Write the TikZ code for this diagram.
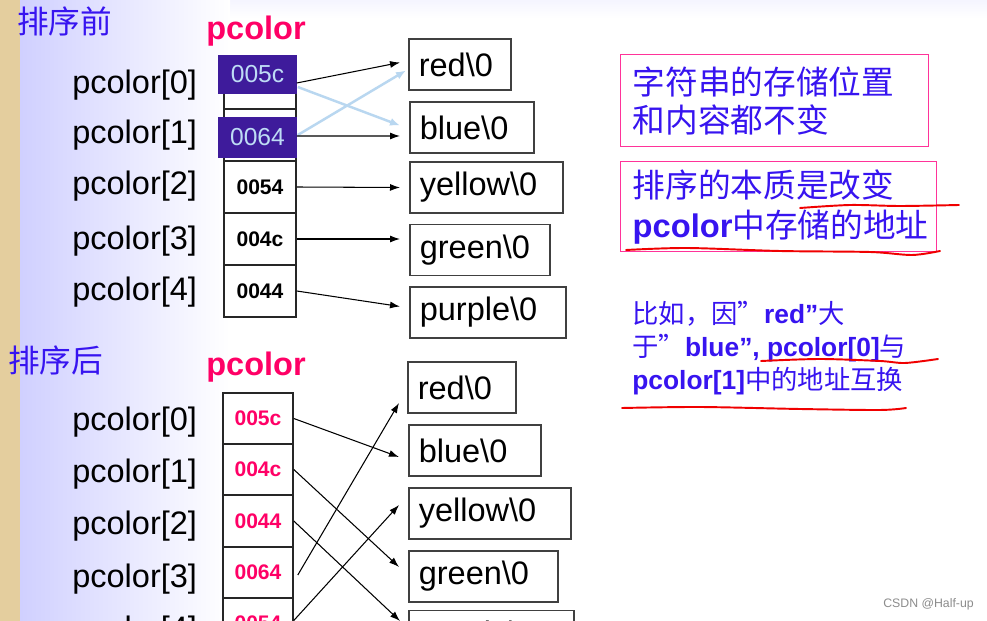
\documentclass[tikz,border=0pt]{standalone}
\usepackage{fontspec}
\setmainfont{Liberation Sans}
\newfontfamily\cjk{Noto Sans CJK SC}
\usepackage{tikz}
\usetikzlibrary{arrows.meta,calc}
\definecolor{NoteBlue}{RGB}{55,20,240}
\definecolor{PtrPink}{RGB}{255,0,102}
\definecolor{BoxPink}{RGB}{255,51,153}
\definecolor{HiPurple}{RGB}{62,27,155}
\definecolor{HiText}{RGB}{190,220,245}
\definecolor{SwapBlue}{RGB}{185,215,240}
\definecolor{Lavender}{RGB}{208,208,255}
\definecolor{Parch}{RGB}{228,206,158}
\definecolor{MarkRed}{RGB}{240,0,0}

\begin{document}
\begin{tikzpicture}[x=0.02cm, y=-0.02cm,
 lbl/.style={anchor=base west, inner sep=0, font=\fontsize{18.5}{22}\selectfont},
 head/.style={anchor=base west, inner sep=0, text=PtrPink, font=\fontsize{18.5}{22}\selectfont\bfseries},
 title/.style={anchor=west, inner sep=0, text=NoteBlue, font=\fontsize{18}{22}\selectfont\cjk},
 cell/.style={draw=black!85, line width=0.9pt, fill=white, minimum width=1.44cm, minimum height=1.04cm, inner sep=0, font=\fontsize{12}{14}\selectfont\bfseries},
 hilite/.style={fill=HiPurple, text=HiText, minimum width=1.58cm, inner sep=0, font=\fontsize{14}{16}\selectfont},
 strbox/.style={draw=black!75, line width=0.9pt, anchor=west, text width=#1, inner xsep=0.2cm, inner ysep=0, minimum height=1.02cm, font=\fontsize{18.5}{22}\selectfont},
 note/.style={draw=BoxPink, line width=0.8pt, anchor=north west, text=NoteBlue, align=left, inner xsep=0.24cm, inner ysep=0, text width=#1},
 ptr/.style={-{Latex[length=2mm,width=1.4mm]}, line width=0.6pt},
 swap/.style={-{Latex[length=2mm,width=1.6mm]}, line width=1.4pt, draw=SwapBlue},
 redline/.style={draw=MarkRed, line width=1.1pt, line cap=round}
]
\useasboundingbox (0,0) rectangle (987,621);
\clip (0,0) rectangle (987,621);

% background
\fill[white] (0,0) rectangle (987,621);
\shade[top color=Lavender!22, bottom color=white] (230,0) rectangle (987,18);
\fill[Parch] (0,0) rectangle (20,621);
\shade[left color=Lavender, right color=white] (20,0) rectangle (230,621);

% before sorting
\node[title] (before) at (17,21) {排序前};
\node[head]  (hd1) at (206,40) {pcolor};

\node[lbl] (l0) at (72,94)  {pcolor[0]};
\node[lbl] (l1) at (72,144) {pcolor[1]};
\node[lbl] (l2) at (72,195) {pcolor[2]};
\node[lbl] (l3) at (72,250) {pcolor[3]};
\node[lbl] (l4) at (72,301) {pcolor[4]};

\node[cell] (c0) at (260,83)  {};
\node[cell] (c1) at (260,135) {};
\node[cell] (c2) at (260,187) {0054};
\node[cell] (c3) at (260,239) {004c};
\node[cell] (c4) at (260,291) {0044};
\node[hilite, minimum height=0.78cm] (h0) at (257.5,74.5)  {005c};
\node[hilite, minimum height=0.82cm] (h1) at (257.5,137.5) {0064};

\node[strbox=1.64cm] (red1)    at (408,64.5)  {red\textbackslash 0};
\node[strbox=2.08cm] (blue1)   at (409,127.5) {blue\textbackslash 0};
\node[strbox=2.66cm] (yellow1) at (409,187.5) {yellow\textbackslash 0};
\node[strbox=2.40cm] (green1)  at (409,250)   {green\textbackslash 0};
\node[strbox=2.72cm] (purple1) at (409,312.5) {purple\textbackslash 0};

\draw[swap] ($(c0.east)+(1,4)$) -- ($(blue1.west)+(-9,-2)$);
\draw[swap] ($(c1.east)+(1,0)$) -- ($(red1.west)+(-2,6)$);
\draw[ptr] (c0.east) -- ($(red1.west)+(-8,-2)$);
\draw[ptr] ($(c1.east)+(0,1)$) -- ($(blue1.west)+(-9,8.5)$);
\draw[ptr] (c2.east) -- ($(yellow1.west)+(-9,0)$);
\draw[ptr] (c3.east) -- ($(green1.west)+(-9,-11)$);
\draw[ptr] (c4.east) -- ($(purple1.west)+(-9,-6)$);

% after sorting
\node[title] (after) at (8,360) {排序后};
\node[head]  (hd2) at (206,376) {pcolor};

\node[lbl] (m0) at (72,430) {pcolor[0]};
\node[lbl] (m1) at (72,482) {pcolor[1]};
\node[lbl] (m2) at (72,534) {pcolor[2]};
\node[lbl] (m3) at (72,587) {pcolor[3]};
\node[lbl] (m4) at (72,639) {pcolor[4]};

\node[cell, minimum width=1.4cm, minimum height=1.02cm, text=PtrPink] (d0) at (258,418.5) {005c};
\node[cell, minimum width=1.4cm, minimum height=1.02cm, text=PtrPink] (d1) at (258,469.5) {004c};
\node[cell, minimum width=1.4cm, minimum height=1.02cm, text=PtrPink] (d2) at (258,521)   {0044};
\node[cell, minimum width=1.4cm, minimum height=1.02cm, text=PtrPink] (d3) at (258,572.5) {0064};
\node[cell, minimum width=1.4cm, minimum height=1.02cm, text=PtrPink] (d4) at (258,623.5) {0054};

\node[strbox=1.76cm] (red2)    at (407,387.5) {red\textbackslash 0};
\node[strbox=2.24cm] (blue2)   at (408,450.5) {blue\textbackslash 0};
\node[strbox=2.84cm] (yellow2) at (408,513.5) {yellow\textbackslash 0};
\node[strbox=2.58cm] (green2)  at (408,576.5) {green\textbackslash 0};
\node[strbox=2.90cm] (purple2) at (408,636)   {purple\textbackslash 0};

\draw[ptr] (d0.east) -- ($(blue2.west)+(-9,6.5)$);
\draw[ptr] (d1.east) -- ($(green2.west)+(-9,-9.5)$);
\draw[ptr] (d2.east) -- ($(purple2.west)+(-8,-15)$);
\draw[ptr] ($(d3.east)+(4,2.5)$) -- ($(red2.west)+(-8,15.5)$);
\draw[ptr] ($(d4.east)+(0,-3)$) -- ($(yellow2.west)+(-9,-8.5)$);

% notes on the right
\node[note=5.68cm, minimum height=1.84cm, font=\fontsize{18.6}{21.5}\selectfont] (n1) at (620,54)
  {\cjk 字符串的存储位置\\和内容都不变};
\node[note=5.84cm, minimum height=1.8cm, font=\fontsize{18.6}{22.7}\selectfont] (n2) at (620,161)
  {{\cjk 排序的本质是改变}\\{\bfseries pcolor}{\cjk 中存储的地址}};
\node[anchor=west, inner sep=0, text=NoteBlue, align=left, font=\fontsize{15}{18.7}\selectfont] (n3) at (632,348)
  {{\cjk 比如，因”}{\bfseries red”}{\cjk 大}\\{\cjk 于”}{\bfseries blue”, pcolor[0]}{\cjk 与}\\{\bfseries pcolor[1]}{\cjk 中的地址互换}};

\draw[redline] plot[smooth] coordinates {(800,208) (850,205) (900,206) (959,205)};
\draw[redline] plot[smooth] coordinates {(626,250) (687,248) (780,251) (870,252) (912,255) (940,251)};
\draw[redline] plot[smooth] coordinates {(761,361) (820,359) (880,361) (905,363) (938,359)};
\draw[redline] plot[smooth] coordinates {(622,408) (700,407) (800,409) (880,410) (906,408)};

\node[anchor=west, inner sep=0, text=black!45, font=\fontsize{7}{8}\selectfont] (wm) at (883,604) {CSDN @Half-up};
\end{tikzpicture}
\end{document}
